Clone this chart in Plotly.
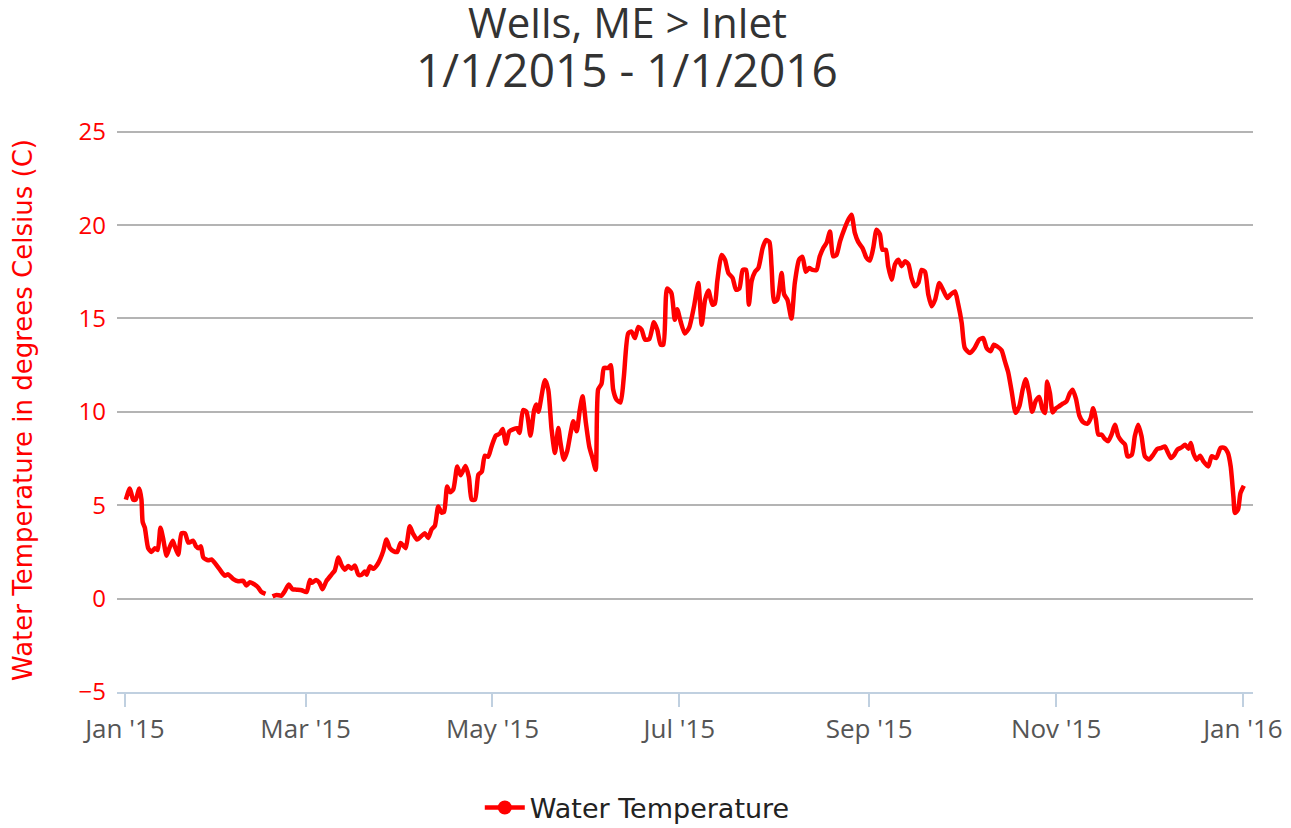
import pandas as pd
import plotly.graph_objects as go

# ---------- data (days since 1 Jan 2015, deg C) ----------
start_date = "2015-01-01"

day_offsets = [
    0.3, 1.6, 2.7, 3.5, 4.7, 5.4, 5.8, 6.5, 7.6, 8.7, 9.8, 10.7, 11.6, 12.5, 13.6, 14.5,
    15.6, 16.3, 17.4, 18.5, 19.6, 20.7, 22.3, 23.2, 24.0, 24.8, 25.6, 27.2, 28.3, 29.4,
    31.0, 32.6, 33.7, 35.4, 37.0, 38.6, 39.7, 40.8, 42.4, 43.5, 44.6, 45.9, 47.0,
    48.2, 49.5, 51.1, 52.2, 53.5, 54.7, 56.0, 57.7, 59.3, 60.4, 61.1, 62.4, 63.5, 64.5,
    65.8, 67.5, 68.5, 69.7, 70.7, 71.8, 72.9, 74.0, 75.1, 76.2, 77.3, 78.3, 78.9, 80.0,
    81.1, 82.4, 83.3, 84.3, 85.4, 86.5, 87.8, 88.9, 90.0, 91.1, 91.7, 93.0, 94.1, 95.4,
    96.8, 97.9, 99.0, 100.1, 101.2, 102.3, 103.4, 104.2, 105.2, 106.1, 107.2, 108.5,
    109.6, 111.2, 112.3, 113.2, 114.3, 115.4, 116.5, 117.5, 118.6, 119.7, 121.1, 122.4,
    123.3, 124.4, 125.5, 126.9, 128.0, 128.8, 130.0, 131.1, 132.4, 133.6, 134.3, 135.0,
    137.1, 138.2, 139.3, 140.4, 141.5, 142.2, 143.3, 144.4, 145.5, 146.4, 147.5, 148.5,
    149.4, 150.5, 151.6, 152.7, 153.7, 154.5, 155.6, 156.4, 157.8, 158.6, 159.4, 160.5,
    161.8, 162.9, 164.3, 165.4, 166.5, 167.6, 168.7, 169.8, 171.2, 172.7, 173.8, 174.9,
    175.8, 177.0, 178.4, 179.5, 180.3, 181.4, 182.8, 184.2, 185.8, 187.2, 188.3, 189.4,
    190.5, 191.8, 192.6, 193.4, 194.8, 195.9, 197.0, 198.4, 199.5, 200.6, 201.7, 202.8,
    203.7, 204.6, 205.7, 206.8, 208.2, 209.3, 210.4, 211.1, 212.0, 213.0, 214.4, 215.2,
    216.3, 217.6, 218.7, 220.1, 221.2, 222.3, 223.4, 224.5, 225.8, 226.8, 228.0, 229.1,
    230.2, 231.2, 232.3, 233.5, 234.9, 236.2, 237.2, 238.3, 239.4, 240.8, 242.1, 243.2,
    244.3, 245.4, 246.5, 247.3, 248.4, 249.2, 250.3, 251.4, 252.5, 253.6, 254.7, 255.8,
    256.8, 257.9, 259.0, 260.1, 261.2, 262.3, 263.4, 264.5, 265.9, 267.2, 268.5, 269.5,
    271.0, 272.0, 273.2, 274.2, 275.9, 277.4, 278.9, 280.2, 281.3, 282.6, 283.7, 284.8,
    286.2, 287.3, 288.4, 289.5, 290.8, 292.0, 293.1, 294.1, 295.2, 296.2, 297.4, 298.5,
    299.6, 300.4, 301.1, 302.0, 302.9, 304.0, 305.0, 306.3, 307.4, 308.5, 309.4, 310.5,
    311.6, 312.9, 314.2, 315.3, 316.1, 317.0, 317.8, 318.9, 319.9, 321.0, 322.1, 323.2,
    324.3, 325.4, 326.5, 327.3, 328.7, 329.7, 330.8, 331.9, 333.0, 334.4, 335.7, 337.0,
    338.4, 339.5, 340.3, 341.5, 342.6, 343.6, 345.0, 346.1, 347.2, 348.0, 348.8, 349.9,
    351.0, 352.1, 353.7, 354.8, 356.3, 357.7, 359.0, 360.1, 361.0, 361.9, 362.4, 363.4,
    364.2, 365.3,
]

water_temp = [
    5.3, 5.9, 5.3, 5.3, 5.9, 5.3, 4.1, 3.8, 2.7, 2.5, 2.7, 2.6, 3.8, 3.2, 2.3, 2.7,
    3.1, 2.8, 2.35, 3.5, 3.5, 3.0, 3.1, 2.8, 2.7, 2.8, 2.2, 2.05, 2.1, 1.9,
    1.55, 1.23, 1.3, 1.05, 0.93, 0.95, 0.7, 0.88, 0.75, 0.6, 0.35, 0.25, None,
    0.12, 0.2, 0.16, 0.4, 0.75, 0.5, 0.48, 0.45, 0.35, 1.0, 0.85, 1.0, 0.85, 0.5,
    0.95, 1.3, 1.5, 2.2, 1.8, 1.55, 1.75, 1.6, 1.77, 1.28, 1.28, 1.45, 1.28, 1.73,
    1.6, 1.82, 2.1, 2.53, 3.16, 2.7, 2.53, 2.5, 2.98, 2.8, 2.7, 3.87, 3.47, 3.16,
    3.35, 3.5, 3.25, 3.7, 3.9, 4.94, 4.6, 4.65, 6.0, 5.7, 5.85, 7.08,
    6.6, 7.1, 6.5, 5.3, 5.3, 6.64, 6.8, 7.65, 7.6, 8.15, 8.73, 8.83,
    9.08, 8.3, 8.95, 9.08, 9.13, 8.87, 10.1, 10.0, 8.73, 10.1, 10.4, 10.0,
    11.7, 11.2, 9.05, 7.8, 9.14, 8.35, 7.44, 7.9, 8.87, 9.5, 8.96, 10.1,
    10.83, 9.4, 8.15, 7.5, 6.9, 11.2, 11.5, 12.35, 12.35, 12.5, 11.2, 10.65,
    10.5, 11.9, 14.2, 14.3, 13.95, 14.55, 14.4, 13.87, 13.9, 14.8, 14.4, 13.6,
    13.6, 16.6, 16.37, 14.93, 15.5, 14.85, 14.2, 14.5, 15.65, 16.9, 14.67, 16.0,
    16.5, 15.74, 15.8, 17.0, 18.4, 18.15, 17.44, 17.17, 16.54, 16.6, 17.6, 17.6,
    15.74, 17.0, 17.5, 17.7, 18.77, 19.2, 19.1, 17.8, 15.9, 16.0, 17.44, 16.3,
    16.0, 15.0, 16.9, 18.15, 18.3, 17.5, 17.7, 17.6, 17.6, 18.3, 18.77, 19.06,
    19.66, 18.33, 18.4, 19.15, 19.8, 20.3, 20.56, 19.58, 19.1, 18.77, 18.25, 18.1,
    18.77, 19.75, 19.5, 18.68, 18.68, 17.8, 17.08, 17.9, 18.15, 17.8, 18.07, 17.9,
    17.17, 16.72, 16.9, 17.6, 17.5, 16.27, 15.65, 16.0, 16.9, 16.5, 16.1, 16.27,
    16.45, 15.8, 14.76, 13.42, 13.15, 13.42, 13.87, 13.95, 13.42, 13.24, 13.6, 13.5,
    13.3, 12.7, 12.1, 11.1, 9.95, 10.3, 11.2, 11.75, 11.0, 10.0, 10.6, 10.8,
    10.12, 9.94, 11.63, 11.0, 9.97, 10.2, 10.3, 10.45, 10.56, 11.0, 11.19, 10.7,
    9.8, 9.44, 9.37, 9.67, 10.2, 9.6, 8.78, 8.78, 8.55, 8.43, 8.78, 9.31,
    8.7, 8.43, 8.25, 7.62, 7.7, 8.69, 9.31, 8.7, 7.62, 7.45, 7.7, 8.01,
    8.07, 8.15, 7.9, 7.53, 7.7, 7.98, 8.1, 8.24, 8.03, 8.33, 7.8, 7.44,
    7.65, 7.35, 7.08, 7.62, 7.53, 8.07, 8.07, 7.8, 7.08, 5.47, 4.59, 4.77,
    5.65, 6.05,
]

y_ticks = [-5, 0, 5, 10, 15, 20, 25]
x_tick_dates = ["2015-01-01", "2015-03-01", "2015-05-01", "2015-07-01",
                "2015-09-01", "2015-11-01", "2016-01-01"]

title_lines = ["Wells, ME &gt; Inlet", "1/1/2015 - 1/1/2016"]
title_sizes = [42, 46]

dates = pd.Timestamp(start_date) + pd.to_timedelta(day_offsets, unit="D")

FONT = "Open Sans"
RED = "#ff0000"

# page body has an 8px margin, so the figure is drawn 8px in from the corner;
# the figure is a little taller than the window so the legend never pushes the plot
FIG_W, FIG_H = 1283, 850
M_L, M_T, PLOT_W, PLOT_H = 109, 120, 1136, 564
M_R = FIG_W - M_L - PLOT_W
M_B = FIG_H - M_T - PLOT_H

fig = go.Figure()
fig.add_trace(go.Scatter(
    x=dates,
    y=water_temp,
    mode="lines",
    name="Water Temperature",
    line=dict(color=RED, width=4.5, shape="spline", smoothing=0.6),
    connectgaps=False,
    showlegend=False,
))
# legend entry only (line with a round marker, like the original)
fig.add_trace(go.Scatter(
    x=[None], y=[None],
    mode="lines+markers",
    name="Water Temperature",
    line=dict(color=RED, width=4.5),
    marker=dict(color=RED, size=14, symbol="circle"),
))

fig.update_layout(
    width=FIG_W,
    height=FIG_H,
    paper_bgcolor="white",
    plot_bgcolor="white",
    margin=dict(l=M_L, r=M_R, t=M_T, b=M_B),
    font=dict(family=FONT, color="#333333"),
    showlegend=True,
    legend=dict(
        orientation="h", x=0.458, xanchor="center", y=-0.2057, yanchor="middle",
        font=dict(size=27, color="#222222", family="DejaVu Sans"),
        itemwidth=40,
    ),
)

# two-line chart title
for text, size, ypx in zip(title_lines, title_sizes, [13, 61]):
    fig.add_annotation(
        text=text, xref="paper", yref="paper",
        x=0.449, y=(M_T + PLOT_H - ypx) / PLOT_H,
        xanchor="center", yanchor="middle", showarrow=False,
        font=dict(size=size, color="#333333", family=FONT),
    )

fig.update_xaxes(
    type="date",
    range=["2014-12-29 10:00", "2016-01-04 07:00"],
    tickvals=x_tick_dates,
    tickformat="%b '%y",
    tickfont=dict(size=26, color="#555555"),
    showgrid=False,
    showline=True, linecolor="#c0d0e0", linewidth=2,
    ticks="outside", tickcolor="#c0d0e0", ticklen=13, tickwidth=1.5,
    automargin=False,
)

fig.update_yaxes(
    range=[-5, 25.2],
    tickvals=y_ticks,
    tickfont=dict(size=24, color=RED),
    showgrid=True, gridcolor="#b4b4b4", gridwidth=2,
    zeroline=False,
    ticks="", ticklabelstandoff=10,
    automargin=False,
    title=dict(text="Water Temperature in degrees Celsius (C)",
               font=dict(size=26, color=RED, family="DejaVu Sans"), standoff=40),
)

fig.write_html("out.html")
